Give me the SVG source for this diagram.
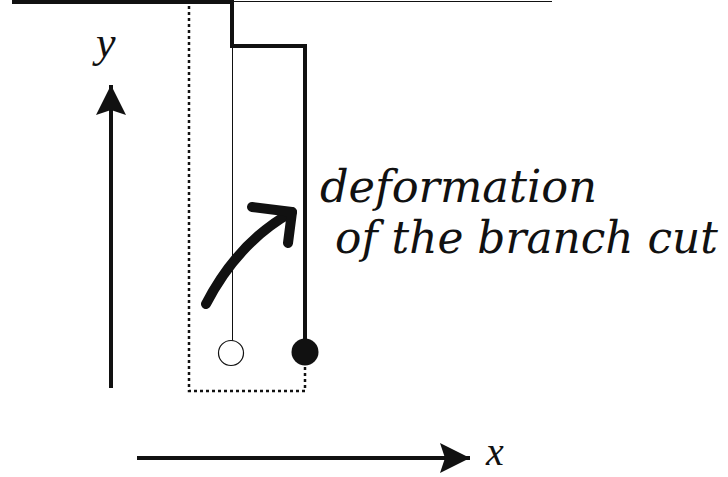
<svg xmlns="http://www.w3.org/2000/svg" width="728" height="477" viewBox="0 0 728 477">
<style>
.thick{fill:none;stroke:#111;stroke-width:4}
.thin{fill:none;stroke:#111;stroke-width:1}
.dot{fill:none;stroke:#111;stroke-width:2.5;stroke-dasharray:3 3}
.lbl{font-family:"Liberation Serif",serif;font-style:italic;fill:#111}
.txt{font-family:"DejaVu Serif",serif;font-style:italic;fill:#111;font-size:44px}
</style>
<defs>
<marker id="ah" markerUnits="userSpaceOnUse" markerWidth="32" markerHeight="34" refX="30" refY="16" orient="auto" viewBox="0 0 32 32">
<path d="M0,1 L30,16 L0,31 L5,16 Z" fill="#111"/>
</marker>
</defs>
<g id="axes">
<line class="thick" x1="111" y1="388" x2="111" y2="85" marker-end="url(#ah)"/>
<line class="thick" x1="137" y1="458" x2="470" y2="458" marker-end="url(#ah)"/>
</g>
<g id="connectors">
<path class="dot" d="M189,0 V391 H305 V364"/>
<path class="thick" d="M12,2 H232 V46 H305 V352"/>
<path class="thin" d="M232,1.5 H552"/>
<path class="thin" d="M232.5,46 V341"/>
<path d="M206,304 Q238,242 292,212" fill="none" stroke="#111" stroke-width="10" stroke-linecap="round"/>
<path d="M252,207 L292,212 L288,243" fill="none" stroke="#111" stroke-width="10" stroke-linecap="round" stroke-linejoin="round"/>
</g>
<g id="open-point"><circle cx="231" cy="353" r="12.5" fill="#fff" stroke="#111" stroke-width="1.2"/></g>
<g id="filled-point"><circle cx="305" cy="352" r="13.5" fill="#111"/></g>
<g id="label-y"><text class="lbl" x="96" y="57" font-size="44">y</text></g>
<g id="label-x"><text class="lbl" x="486" y="465" font-size="40">x</text></g>
<g id="label-deformation">
<text class="txt" x="320" y="202" textLength="277" lengthAdjust="spacingAndGlyphs">deformation</text>
<text class="txt" x="335" y="253" textLength="383" lengthAdjust="spacingAndGlyphs">of the branch cut</text>
</g>
</svg>
